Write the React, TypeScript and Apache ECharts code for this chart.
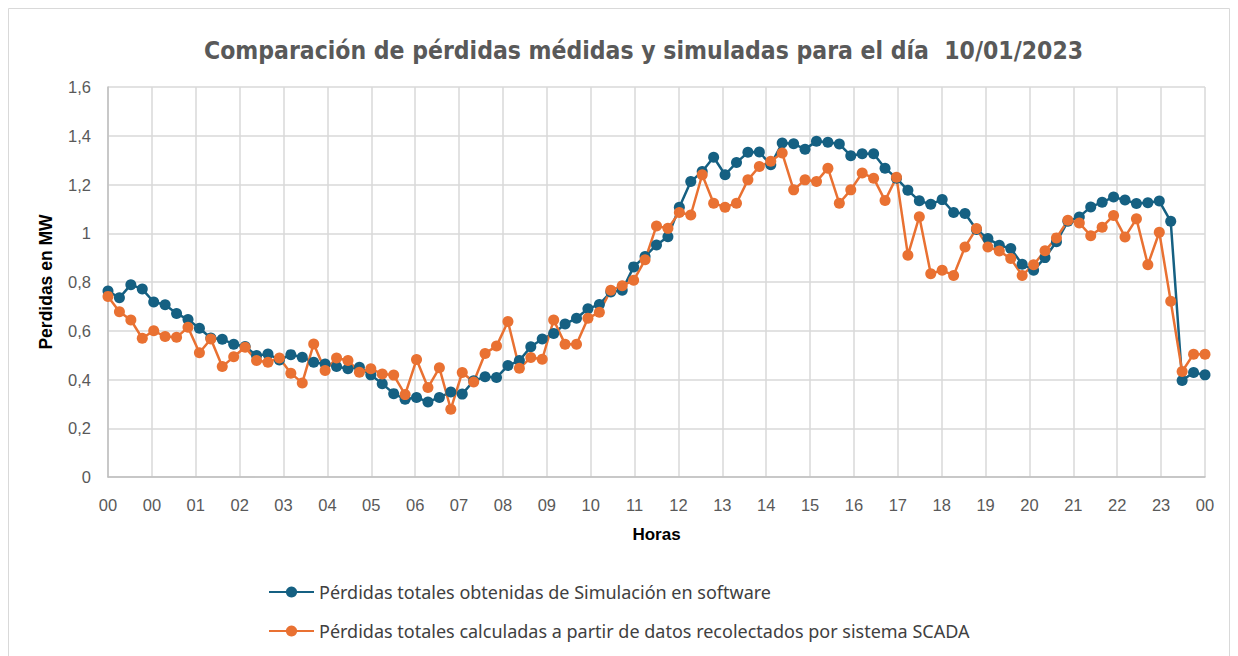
import { useEffect, useRef } from "react";
import * as echarts from "echarts";

const chartTitle = "Comparación de pérdidas médidas y simuladas para el día  10/01/2023";
const yAxisTitle = "Perdidas en MW";
const xAxisTitle = "Horas";
const seriesNames = [
  "Pérdidas totales obtenidas de Simulación en software",
  "Pérdidas totales calculadas a partir de datos recolectados por sistema SCADA",
];

// x tick labels (every 57.6 min across the day, formatted as hour)
const xTickLabels = [
  "00", "00", "01", "02", "03", "04", "05", "06", "07", "08", "09", "10", "11",
  "12", "13", "14", "15", "16", "17", "18", "19", "20", "21", "22", "23", "00",
];
const yTickLabels = ["0", "0,2", "0,4", "0,6", "0,8", "1", "1,2", "1,4", "1,6"];

const stepMinutes = 15;
const tickMinutes = 57.6;

// 97 samples, every 15 minutes from 00:00 to 24:00
const simulated = [
  0.763, 0.735, 0.789, 0.771, 0.718, 0.707, 0.671, 0.646, 0.61, 0.57,
  0.565, 0.545, 0.535, 0.498, 0.505, 0.48, 0.502, 0.491, 0.471, 0.464,
  0.453, 0.444, 0.45, 0.419, 0.383, 0.342, 0.319, 0.326, 0.308, 0.326,
  0.349, 0.34, 0.395, 0.411, 0.408, 0.457, 0.478, 0.534, 0.566, 0.589,
  0.628, 0.651, 0.69, 0.708, 0.759, 0.766, 0.862, 0.905, 0.952, 0.986,
  1.107, 1.212, 1.253, 1.312, 1.24, 1.29, 1.332, 1.333, 1.281, 1.37,
  1.367, 1.345, 1.377, 1.373, 1.366, 1.318, 1.326, 1.326, 1.267, 1.226,
  1.176, 1.133, 1.119, 1.138, 1.085, 1.081, 1.015, 0.978, 0.951, 0.937,
  0.873, 0.848, 0.9, 0.965, 1.049, 1.067, 1.108, 1.127, 1.149, 1.136,
  1.122, 1.125, 1.132, 1.049, 0.396, 0.429, 0.419,
];

const scada = [
  0.741, 0.678, 0.644, 0.569, 0.6, 0.576, 0.573, 0.614, 0.51, 0.566,
  0.453, 0.493, 0.532, 0.478, 0.471, 0.488, 0.426, 0.386, 0.546, 0.437,
  0.488, 0.478, 0.43, 0.444, 0.423, 0.418, 0.338, 0.482, 0.367, 0.448,
  0.278, 0.429, 0.39, 0.507, 0.537, 0.638, 0.446, 0.49, 0.483, 0.644,
  0.545, 0.545, 0.651, 0.676, 0.766, 0.785, 0.807, 0.891, 1.03, 1.02,
  1.085, 1.075, 1.24, 1.123, 1.107, 1.123, 1.219, 1.274, 1.295, 1.329,
  1.178, 1.219, 1.212, 1.267, 1.123, 1.178, 1.247, 1.226, 1.134, 1.23,
  0.91, 1.068, 0.834, 0.848, 0.827, 0.944, 1.019, 0.944, 0.927, 0.896,
  0.827, 0.871, 0.928, 0.981, 1.053, 1.042, 0.99, 1.025, 1.073, 0.985,
  1.059, 0.871, 1.004, 0.721, 0.433, 0.504, 0.504,
];

const colors = ["#156082", "#E97132"];

export default function App() {
  const ref = useRef<HTMLDivElement>(null);

  useEffect(() => {
    if (!ref.current) return;
    const chart = echarts.init(ref.current, null, { renderer: "svg" });
    const toPairs = (arr: number[]) => arr.map((v, i) => [i * stepMinutes, v]);
    const lineSeries = (name: string, data: number[], color: string) => ({
      name,
      type: "line",
      data: toPairs(data),
      symbol: "circle",
      symbolSize: 11,
      showSymbol: true,
      lineStyle: { color, width: 2.5 },
      itemStyle: { color },
      emphasis: { disabled: true },
    });

    chart.setOption({
      animation: false,
      backgroundColor: "#ffffff",
      color: colors,
      title: {
        text: chartTitle,
        left: 199,
        top: 33,
        textStyle: {
          fontFamily: "'Liberation Sans Narrow', 'DejaVu Sans Condensed', 'Liberation Sans', Arial, sans-serif",
          fontWeight: "bold",
          fontSize: 24.5,
          color: "#595959",
        },
      },
      graphic: [
        {
          type: "rect",
          shape: { x: 8.5, y: 8.5, width: 1221, height: 670 },
          style: { fill: "none", stroke: "#d9d9d9", lineWidth: 1 },
          silent: true,
        },
      ],
      grid: { left: 108, right: 33, top: 87, bottom: 179 },
      xAxis: {
        type: "value",
        min: 0,
        max: 1440,
        interval: tickMinutes,
        name: xAxisTitle,
        nameLocation: "middle",
        nameGap: 49,
        nameTextStyle: {
          fontFamily: "'Liberation Sans', Arial, sans-serif",
          fontWeight: "bold",
          fontSize: 17,
          color: "#000000",
        },
        axisLine: { show: true, lineStyle: { color: "#bfbfbf", width: 1.5 } },
        axisTick: { show: false },
        splitLine: { show: true, lineStyle: { color: "#d9d9d9", width: 1.5 } },
        axisLabel: {
          margin: 19,
          showMinLabel: true,
          showMaxLabel: true,
          fontFamily: "'Liberation Sans', Arial, sans-serif",
          fontSize: 16.5,
          color: "#595959",
          formatter: (v: number) => xTickLabels[Math.round(v / tickMinutes)] ?? "",
        },
      },
      yAxis: {
        type: "value",
        min: 0,
        max: 1.6,
        interval: 0.2,
        name: yAxisTitle,
        nameLocation: "middle",
        nameGap: 53,
        nameTextStyle: {
          fontFamily: "'Liberation Sans', Arial, sans-serif",
          fontWeight: "bold",
          fontSize: 17.5,
          color: "#000000",
        },
        axisLine: { show: true, lineStyle: { color: "#bfbfbf", width: 1.5 } },
        axisTick: { show: false },
        splitLine: { show: true, lineStyle: { color: "#d9d9d9", width: 1.5 } },
        axisLabel: {
          margin: 17,
          fontFamily: "'Liberation Sans', Arial, sans-serif",
          fontSize: 16.5,
          color: "#595959",
          formatter: (v: number) => yTickLabels[Math.round(v / 0.2)] ?? "",
        },
      },
      legend: {
        orient: "vertical",
        left: 263,
        top: 578,
        itemWidth: 45,
        itemHeight: 14,
        itemGap: 21,
        selectedMode: false,
        textStyle: {
          fontFamily: "'Noto Sans', 'Open Sans', sans-serif",
          fontSize: 18,
          color: "#404040",
          padding: [0, 0, 0, 0],
        },
        data: seriesNames,
      },
      series: [
        lineSeries(seriesNames[0], simulated, colors[0]),
        lineSeries(seriesNames[1], scada, colors[1]),
      ],
    });

    return () => chart.dispose();
  }, []);

  return (
    <div
      ref={ref}
      style={{ position: "fixed", left: 0, top: 0, width: 1238, height: 656 }}
    />
  );
}
